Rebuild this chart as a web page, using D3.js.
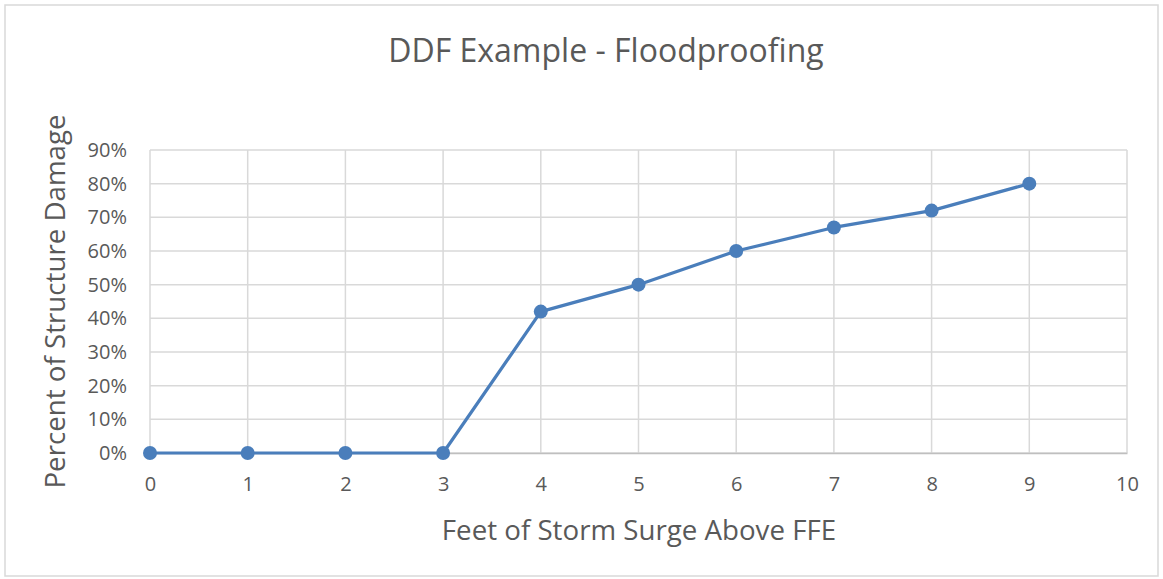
<!DOCTYPE html>
<html>
<head>
<meta charset="utf-8">
<script src="https://cdn.jsdelivr.net/npm/d3@7"></script>
<style>
html,body{margin:0;padding:0;background:#fff;}
svg{display:block;}
text{font-family:"Open Sans","Noto Sans",sans-serif;}
</style>
</head>
<body>
<svg id="chart" width="1163" height="579"></svg>
<script>
const title = "DDF Example - Floodproofing";
const xTitle = "Feet of Storm Surge Above FFE";
const yTitle = "Percent of Structure Damage";
const feet = [0, 1, 2, 3, 4, 5, 6, 7, 8, 9];
const damage = [0, 0, 0, 0, 0.42, 0.50, 0.60, 0.67, 0.72, 0.80];
const xTicks = [0, 1, 2, 3, 4, 5, 6, 7, 8, 9, 10];
const yTicks = [0, 0.1, 0.2, 0.3, 0.4, 0.5, 0.6, 0.7, 0.8, 0.9];

(function () {
const svg = d3.select("#chart");
const W = 1163, H = 579;

svg.append("rect").attr("x", 5).attr("y", 5).attr("width", W - 10).attr("height", H - 8)
  .attr("fill", "#fff").attr("stroke", "#d9d9d9").attr("stroke-width", 1.5);

const pL = 150, pR = 1127, pT = 150, pB = 453;
const x = d3.scaleLinear().domain([0, 10]).range([pL, pR]);
const y = d3.scaleLinear().domain([0, 0.9]).range([pB, pT]);

// gridlines
svg.append("g").selectAll("line").data(yTicks).join("line")
  .attr("x1", pL).attr("x2", pR).attr("y1", d => y(d)).attr("y2", d => y(d))
  .attr("stroke", "#d9d9d9").attr("stroke-width", 1.5);
svg.append("g").selectAll("line").data(xTicks).join("line")
  .attr("y1", pT).attr("y2", pB).attr("x1", d => x(d)).attr("x2", d => x(d))
  .attr("stroke", "#d9d9d9").attr("stroke-width", 1.5);

// axes (labels only)
const yAxis = d3.axisLeft(y).tickValues(yTicks).tickFormat(d3.format(".0%")).tickSize(0).tickPadding(23);
const gy = svg.append("g").attr("transform", `translate(${pL},0)`).call(yAxis);
gy.select(".domain").remove();
gy.attr("font-family", null);
gy.selectAll("text").attr("fill", "#595959").attr("font-size", 20);

const xAxis = d3.axisBottom(x).tickValues(xTicks).tickFormat(d3.format("d")).tickSize(0).tickPadding(24);
const gx = svg.append("g").attr("transform", `translate(0,${pB})`).call(xAxis);
gx.select(".domain").attr("stroke", "#bfbfbf").attr("stroke-width", 1.5);
gx.attr("font-family", null);
gx.selectAll("text").attr("fill", "#595959").attr("font-size", 20);

// line
const pts = feet.map((f, i) => [f, damage[i]]);
svg.append("path").datum(pts)
  .attr("fill", "none").attr("stroke", "#4a7ebb").attr("stroke-width", 3.2)
  .attr("stroke-linejoin", "round")
  .attr("d", d3.line().x(d => x(d[0])).y(d => y(d[1])));
svg.append("g").selectAll("circle").data(pts).join("circle")
  .attr("cx", d => x(d[0])).attr("cy", d => y(d[1])).attr("r", 7)
  .attr("fill", "#4a7ebb");

// titles
svg.append("text").attr("x", 606).attr("y", 62).attr("text-anchor", "middle")
  .attr("font-size", 32).attr("fill", "#595959").text(title);
svg.append("text").attr("x", 639).attr("y", 540).attr("text-anchor", "middle")
  .attr("font-size", 27.7).attr("fill", "#595959").text(xTitle);
svg.append("text").attr("transform", "translate(65,301.5) rotate(-90)").attr("text-anchor", "middle")
  .attr("font-size", 27.7).attr("fill", "#595959").text(yTitle);
})();
</script>
</body>
</html>
